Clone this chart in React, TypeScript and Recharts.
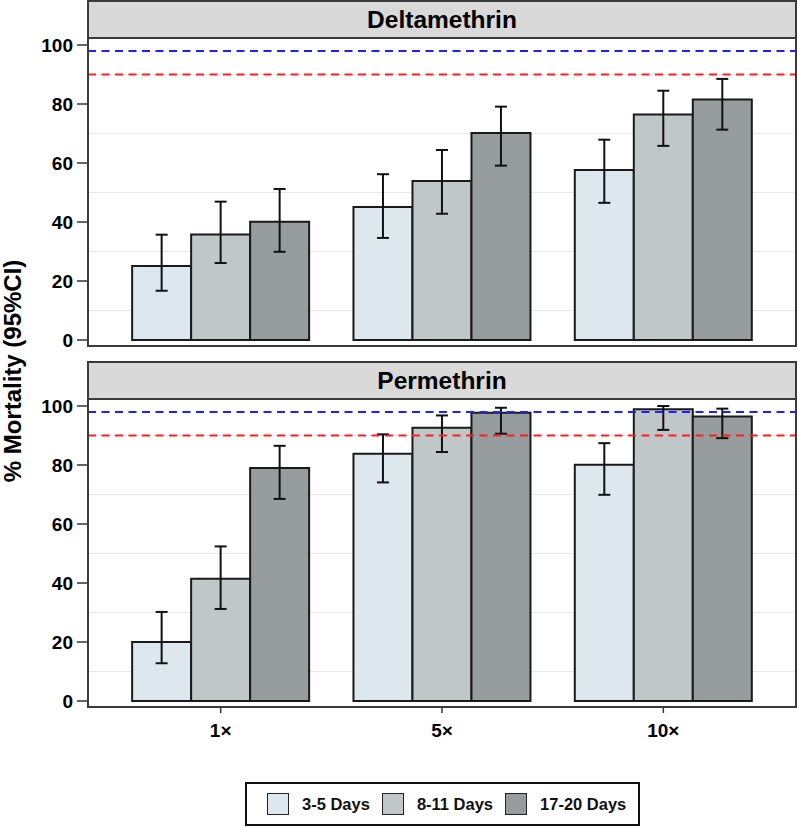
import { Bar, BarChart, CartesianGrid, ErrorBar, ReferenceLine, XAxis, YAxis } from 'recharts'

const doses = ['1×', '5×', '10×']
const periods = ['3-5 Days', '8-11 Days', '17-20 Days']
const periodColors = ['#dce8ed', '#c0c7c9', '#979c9e']

const yTicks = [0, 20, 40, 60, 80, 100]
const gridValues = [10, 30, 50, 70, 90]

// Deltamethrin: one array per holding period, values per dose
const delta35 = [25.1, 45.1, 57.6]
const delta35Lo = [16.7, 34.6, 46.5]
const delta35Hi = [35.7, 56.2, 67.9]
const delta811 = [35.8, 53.9, 76.4]
const delta811Lo = [26.1, 42.8, 65.8]
const delta811Hi = [46.9, 64.4, 84.5]
const delta1720 = [40.1, 70.2, 81.5]
const delta1720Lo = [29.9, 59.1, 71.3]
const delta1720Hi = [51.2, 79.1, 88.5]

// Permethrin
const perm35 = [20.0, 83.8, 80.1]
const perm35Lo = [12.8, 74.1, 69.9]
const perm35Hi = [30.2, 90.4, 87.4]
const perm811 = [41.4, 92.6, 98.9]
const perm811Lo = [31.2, 84.4, 91.9]
const perm811Hi = [52.4, 96.8, 100]
const perm1720 = [79.0, 97.7, 96.4]
const perm1720Lo = [68.5, 90.6, 89.1]
const perm1720Hi = [86.5, 99.4, 99.1]

const FONT = '"Liberation Sans", Arial, Helvetica, sans-serif'

function buildRows(means: number[][], lows: number[][], highs: number[][]) {
  return doses.map((dose, i) => {
    const row: Record<string, unknown> = { dose }
    means.forEach((m, k) => {
      row[`m${k}`] = m[i]
      row[`e${k}`] = [m[i] - lows[k][i], highs[k][i] - m[i]]
    })
    return row
  })
}

function YTick({ x, y, payload }: any) {
  return (
    <text x={x} y={y} dy={6.8} textAnchor="end" fill="#000" fontSize={19} fontWeight={700} fontFamily={FONT}>
      {payload.value}
    </text>
  )
}

function XTick({ x, y, payload }: any) {
  return (
    <text x={x} y={y} dy={15} textAnchor="middle" fill="#000" fontSize={19} fontWeight={700} fontFamily={FONT}>
      {payload.value}
    </text>
  )
}

function Panel({
  title,
  top,
  means,
  lows,
  highs,
  showX,
}: {
  title: string
  top: number
  means: number[][]
  lows: number[][]
  highs: number[][]
  showX: boolean
}) {
  const data = buildRows(means, lows, highs)
  const height = showX ? 386 : 360
  return (
    <div style={{ position: 'absolute', left: 0, top, width: 797, height }}>
      <div
        style={{
          position: 'absolute',
          left: 87,
          top: 0,
          width: 710,
          height: 39,
          boxSizing: 'border-box',
          background: '#d9d9d9',
          border: '2px solid #3a3a3a',
          textAlign: 'center',
          fontFamily: FONT,
          fontWeight: 700,
          fontSize: 24.5,
          lineHeight: '35px',
          color: '#000',
        }}
      >
        {title}
      </div>
      <BarChart
        width={797}
        height={height}
        data={data}
        margin={{ top: 38, right: 1, left: 0, bottom: showX ? 0 : 14 }}
        barCategoryGap="10%"
        barGap={0}
      >
        <CartesianGrid vertical={false} horizontalValues={gridValues} stroke="#e8e8e8" />
        <XAxis
          dataKey="dose"
          hide={!showX}
          padding={{ left: 22, right: 22 }}
          axisLine={false}
          tickLine={{ stroke: '#333', strokeWidth: 1.5 }}
          tickSize={6}
          tickMargin={9}
          height={40}
          interval={0}
          tick={<XTick />}
        />
        <YAxis
          type="number"
          width={88}
          domain={[-2.03, 102.37]}
          allowDataOverflow
          ticks={yTicks}
          interval={0}
          axisLine={false}
          tickLine={{ stroke: '#333', strokeWidth: 1.5 }}
          tickSize={11}
          tickMargin={4}
          tick={<YTick />}
        />
        {periods.map((p, k) => (
          <Bar
            key={p}
            dataKey={`m${k}`}
            name={p}
            fill={periodColors[k]}
            stroke="#1a1a1a"
            strokeWidth={2}
            isAnimationActive={false}
          >
            <ErrorBar dataKey={`e${k}`} direction="y" width={6} strokeWidth={2} stroke="#111" />
          </Bar>
        ))}
        <ReferenceLine y={98} stroke="#1f1fff" strokeWidth={2} strokeDasharray="8 5.5" />
        <ReferenceLine y={90} stroke="#ff1f1f" strokeWidth={2} strokeDasharray="8 5.5" />
      </BarChart>
      <div
        style={{
          position: 'absolute',
          left: 87,
          top: 37,
          width: 710,
          height: 310,
          boxSizing: 'border-box',
          border: '2px solid #3a3a3a',
          pointerEvents: 'none',
        }}
      />
    </div>
  )
}

export default function App() {
  return (
    <div
      style={{
        position: 'absolute',
        left: 0,
        top: 0,
        width: 797,
        height: 827,
        background: '#fff',
        fontFamily: FONT,
        overflow: 'hidden',
      }}
    >
      <Panel
        title="Deltamethrin"
        top={0}
        means={[delta35, delta811, delta1720]}
        lows={[delta35Lo, delta811Lo, delta1720Lo]}
        highs={[delta35Hi, delta811Hi, delta1720Hi]}
        showX={false}
      />
      <Panel
        title="Permethrin"
        top={361}
        means={[perm35, perm811, perm1720]}
        lows={[perm35Lo, perm811Lo, perm1720Lo]}
        highs={[perm35Hi, perm811Hi, perm1720Hi]}
        showX
      />
      <div
        style={{
          position: 'absolute',
          left: 13 - 160,
          top: 371 - 16,
          width: 320,
          height: 32,
          lineHeight: '32px',
          textAlign: 'center',
          transform: 'rotate(-90deg)',
          fontWeight: 700,
          fontSize: 24,
          color: '#000',
          whiteSpace: 'nowrap',
        }}
      >
        % Mortality (95%CI)
      </div>
      <div
        style={{
          position: 'absolute',
          left: 245,
          top: 782,
          width: 395,
          height: 44,
          boxSizing: 'border-box',
          border: '2.5px solid #111',
          display: 'flex',
          alignItems: 'center',
          paddingLeft: 20,
          fontWeight: 700,
          fontSize: 16.5,
          color: '#111',
          whiteSpace: 'nowrap',
        }}
      >
        {periods.map((p, k) => (
          <div key={p} style={{ display: 'flex', alignItems: 'center', marginRight: 12, flexShrink: 0 }}>
            <span
              style={{
                display: 'inline-block',
                width: 22,
                height: 22,
                boxSizing: 'border-box',
                background: periodColors[k],
                border: '1.5px solid #222',
                marginRight: 13,
                flexShrink: 0,
              }}
            />
            <span>{p}</span>
          </div>
        ))}
      </div>
    </div>
  )
}
